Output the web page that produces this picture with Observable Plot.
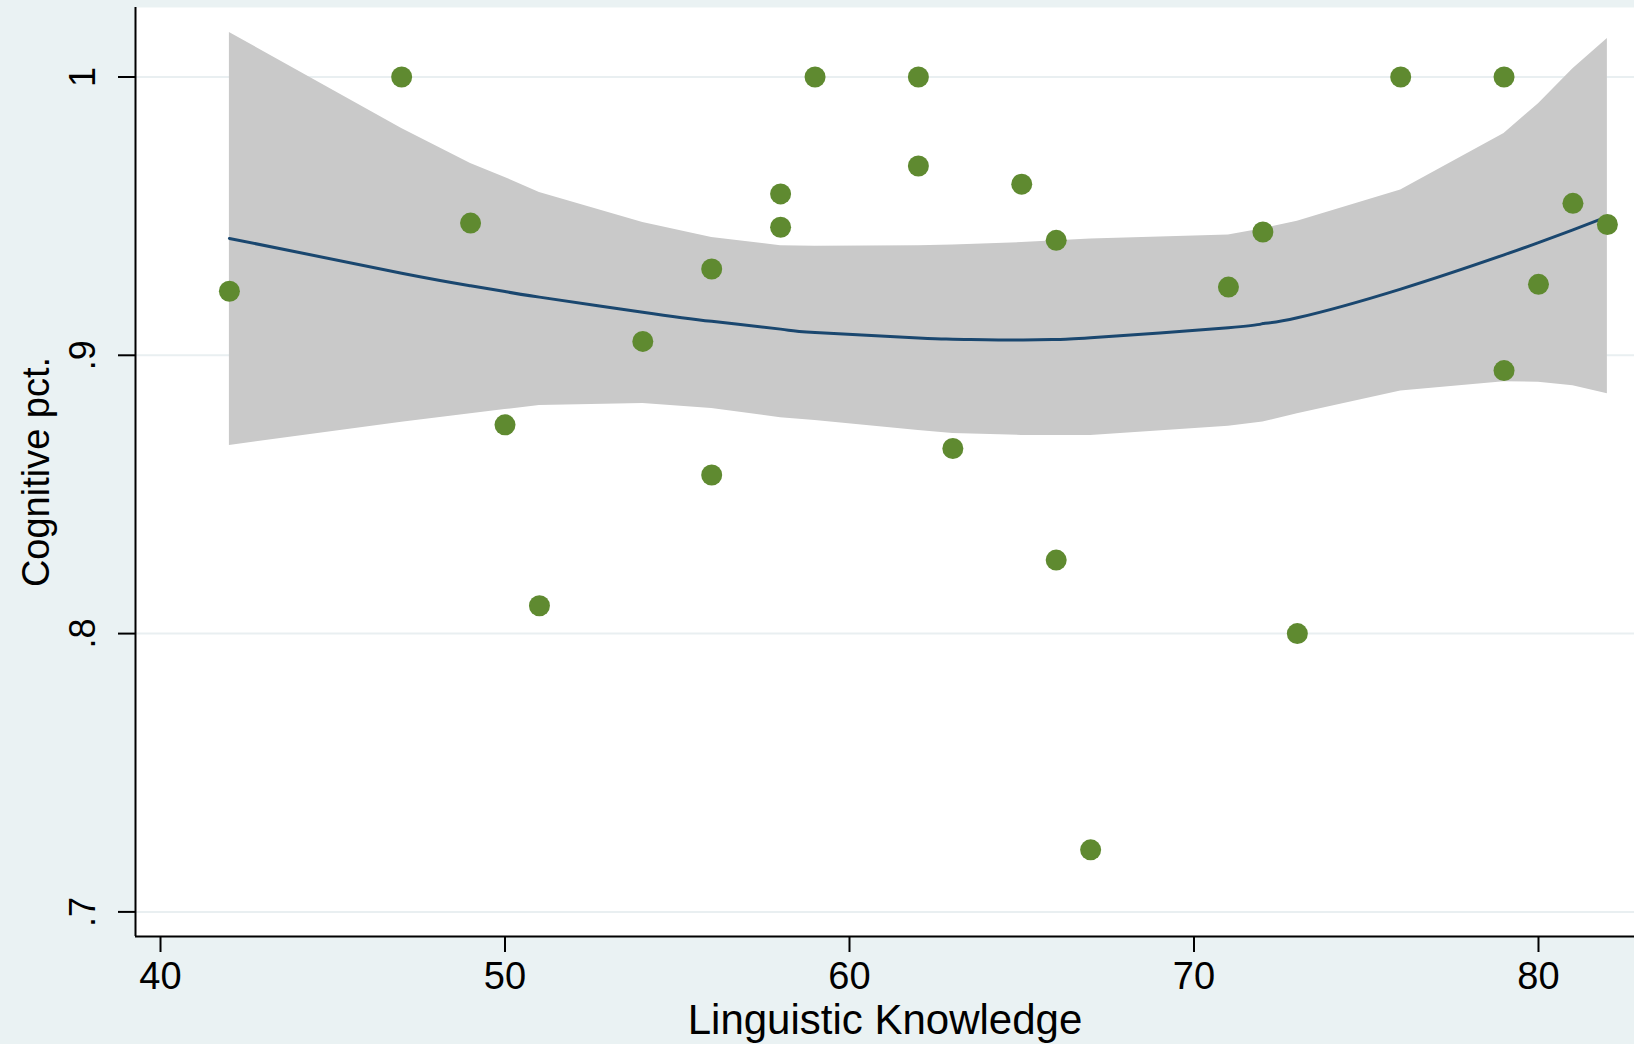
<!DOCTYPE html>
<html>
<head>
<meta charset="utf-8">
<script src="https://cdn.jsdelivr.net/npm/d3@7"></script>
<script src="https://cdn.jsdelivr.net/npm/@observablehq/plot@0.6"></script>
<style>
  html, body { margin: 0; padding: 0; background: #eaf2f3; }
  #chart svg { display: block; }
</style>
</head>
<body>
<div id="chart"></div>
<script>
// Scatter data: Linguistic Knowledge (x) vs Cognitive pct. (y)
const knowledge = [42, 47, 49, 50, 51, 54, 56, 56, 58, 58, 59, 62, 62, 63, 65, 66, 66, 67, 71, 72, 73, 76, 79, 79, 80, 81, 82];
const cognitive = [0.923, 1, 0.9475, 0.875, 0.81, 0.905, 0.931, 0.857, 0.958, 0.946, 1, 1, 0.968, 0.8665, 0.9615, 0.9413, 0.8264, 0.7223, 0.9245, 0.9443, 0.8, 1, 1, 0.8945, 0.9255, 0.9546, 0.947];

// Fitted curve with confidence band
const fitX  = [42, 47, 49, 50, 51, 54, 56, 58, 59, 62, 63, 65, 66, 67, 71, 72, 73, 76, 79, 80, 81, 82];
const fitY  = [0.942, 0.9295, 0.925, 0.9229, 0.9209, 0.9155, 0.9122, 0.9094, 0.9082, 0.9062, 0.9058, 0.9055, 0.9057, 0.9063, 0.9099, 0.9114, 0.9135, 0.9238, 0.9361, 0.9405, 0.9451, 0.9498];
const ciHi  = [1.016, 0.9815, 0.9689, 0.9639, 0.9585, 0.9477, 0.9423, 0.9394, 0.9392, 0.9394, 0.9396, 0.9405, 0.9412, 0.9418, 0.9432, 0.9455, 0.9482, 0.9594, 0.9797, 0.9904, 1.003, 1.0138];
const ciLo  = [0.8676, 0.8759, 0.879, 0.8805, 0.882, 0.8827, 0.8809, 0.8776, 0.8766, 0.873, 0.8719, 0.8712, 0.8712, 0.8712, 0.8745, 0.876, 0.879, 0.8872, 0.8905, 0.8903, 0.8891, 0.8862];

const xTicks = [40, 50, 60, 70, 80];
const yTicks = [0.7, 0.8, 0.9, 1];
const xTitle = "Linguistic Knowledge";
const yTitle = "Cognitive pct.";

const points = knowledge.map((x, i) => ({x, y: cognitive[i]}));
const band = fitX.map((x, i) => ({x, fit: fitY[i], lo: ciLo[i], hi: ciHi[i]}));
const fmtY = d => d === 1 ? "1" : String(d).replace(/^0/, "");

const xDomain = [39.274, 82.787];
const yDomain = [0.69116, 1.02497];

const chart = Plot.plot({
  width: 1634,
  height: 1044,
  marginLeft: 135,
  marginRight: 0,
  marginTop: 7,
  marginBottom: 108,
  style: {
    background: "#eaf2f3",
    fontFamily: "'Liberation Sans', Arial, Helvetica, sans-serif",
    color: "black",
    overflow: "visible"
  },
  x: {domain: xDomain},
  y: {domain: yDomain},
  marks: [
    Plot.frame({fill: "white", stroke: null}),
    Plot.ruleY(yTicks, {stroke: "#e9eff1", strokeWidth: 2}),
    Plot.areaY(band, {x: "x", y1: "lo", y2: "hi", fill: "#c9c9c9", fillOpacity: 1}),
    Plot.line(band, {x: "x", y: "fit", stroke: "#1a476f", strokeWidth: 3, curve: "natural"}),
    Plot.dot(points, {x: "x", y: "y", r: 10.5, fill: "#5f8a30", stroke: null}),
    Plot.ruleX([xDomain[0]], {stroke: "black", strokeWidth: 2}),
    Plot.ruleY([yDomain[0]], {stroke: "black", strokeWidth: 2}),
    Plot.axisX({ticks: xTicks, tickSize: 16, tickPadding: 10, fontSize: 38, label: null, strokeWidth: 2}),
    Plot.axisY({ticks: yTicks, tickSize: 17, tickFormat: () => "", label: null, strokeWidth: 2}),
    Plot.text(yTicks, {y: d => d, text: fmtY, frameAnchor: "left", dx: -52, rotate: -90, fontSize: 36, textAnchor: "middle", lineAnchor: "middle", fill: "black"}),
    Plot.text([xTitle], {text: d => d, frameAnchor: "bottom", dy: 97, lineAnchor: "bottom", fontSize: 42, fill: "black"}),
    Plot.text([yTitle], {text: d => d, frameAnchor: "left", dx: -99, rotate: -90, lineAnchor: "middle", textAnchor: "middle", fontSize: 38, fill: "black"})
  ]
});
document.getElementById("chart").appendChild(chart);
</script>
</body>
</html>
